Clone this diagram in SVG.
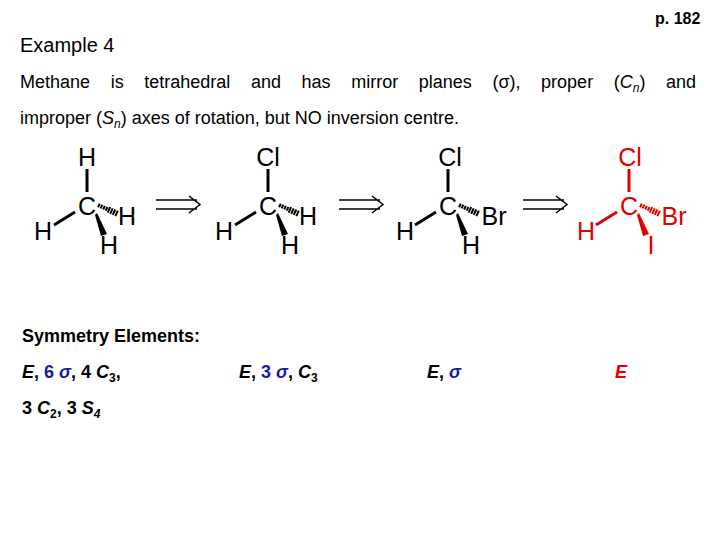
<svg xmlns="http://www.w3.org/2000/svg" width="720" height="540" viewBox="0 0 720 540">
<style>
text{font-family:"Liberation Sans",Arial,sans-serif}
.at{font-size:25px;text-anchor:middle}
.b{stroke-width:3;stroke-linecap:butt;fill:none}
.sym{font-size:18px;font-weight:bold}
.ar{stroke:#000;stroke-width:1.5;fill:none}
</style>
<defs>
<g id="mol">
<line class="b" x1="0" y1="-37" x2="0" y2="-14"/>
<line class="b" x1="-12" y1="6" x2="-33" y2="19"/>
<line x1="11" y1="-1" x2="21" y2="3.5" stroke-width="4" stroke-dasharray="2 0.8"/>
<line x1="21" y1="3.5" x2="31" y2="8" stroke-width="6" stroke-dasharray="2 0.8"/>
<polygon points="10,7 20,28 14,30 8,9" stroke="none"/>
</g>
</defs>
<rect width="720" height="540" fill="#fff"/>
<text x="655" y="24" font-size="16" font-weight="bold">p. 182</text>
<text x="20" y="52" font-size="20">Example 4</text>
<text x="20" y="88" font-size="18" word-spacing="15.6">Methane is tetrahedral and has mirror planes (σ), proper (<tspan font-style="italic">C</tspan><tspan font-style="italic" font-size="12" dy="4">n</tspan><tspan dy="-4">) and</tspan></text>
<text x="20" y="124" font-size="18">improper (<tspan font-style="italic">S</tspan><tspan font-style="italic" font-size="12" dy="4">n</tspan><tspan dy="-4">) axes of rotation, but NO inversion centre.</tspan></text>

<g id="m1">
<use href="#mol" x="87" y="206" fill="#000" stroke="#000"/>
<text class="at" x="87" y="166">H</text><text class="at" x="87" y="215">C</text>
<text class="at" x="43" y="240">H</text><text class="at" x="127" y="225">H</text><text class="at" x="109" y="254">H</text>
</g>
<g id="m2">
<use href="#mol" x="268" y="206" fill="#000" stroke="#000"/>
<text class="at" x="268" y="166">Cl</text><text class="at" x="268" y="215">C</text>
<text class="at" x="224" y="240">H</text><text class="at" x="308" y="225">H</text><text class="at" x="290" y="254">H</text>
</g>
<g id="m3">
<use href="#mol" x="448" y="206" fill="#000" stroke="#000"/>
<text class="at" x="450" y="166">Cl</text><text class="at" x="448" y="215">C</text>
<text class="at" x="405" y="240">H</text><text class="at" x="494" y="225">Br</text><text class="at" x="471" y="254">H</text>
</g>
<g id="m4">
<use href="#mol" x="629" y="206" fill="#e00000" stroke="#e00000"/>
<text class="at" x="630" y="166" fill="#e00000">Cl</text><text class="at" x="629" y="215" fill="#e00000">C</text>
<text class="at" x="586" y="240" fill="#e00000">H</text><text class="at" x="674" y="225" fill="#e00000">Br</text><text class="at" x="651" y="254" fill="#e00000">I</text>
</g>
<g id="connectors">
<g class="ar"><path d="M156,200H197M156,209H197M189,196L200,204.5L189,213"/></g>
<g class="ar"><path d="M339,200H380M339,209H380M372,196L383,204.5L372,213"/></g>
<g class="ar"><path d="M523,200H564M523,209H564M556,196L567,204.5L556,213"/></g>
</g>

<text class="sym" x="22" y="342">Symmetry Elements:</text>
<text class="sym" x="22" y="378"><tspan font-style="italic">E</tspan>, <tspan fill="#1a1aa0">6 <tspan font-style="italic">σ</tspan></tspan>, 4 <tspan font-style="italic">C</tspan><tspan font-size="12" dy="4">3</tspan><tspan dy="-4">,</tspan></text>
<text class="sym" x="239" y="378"><tspan font-style="italic">E</tspan>, <tspan fill="#1a1aa0">3 <tspan font-style="italic">σ</tspan></tspan>, <tspan font-style="italic">C</tspan><tspan font-size="12" dy="4">3</tspan></text>
<text class="sym" x="427" y="378"><tspan font-style="italic">E</tspan>, <tspan fill="#1a1aa0" font-style="italic">σ</tspan></text>
<text class="sym" x="615" y="378" fill="#e00000" font-style="italic">E</text>
<text class="sym" x="22" y="414">3 <tspan font-style="italic">C</tspan><tspan font-size="12" dy="4">2</tspan><tspan dy="-4">, 3 </tspan><tspan font-style="italic">S</tspan><tspan font-size="12" font-style="italic" dy="4">4</tspan></text>
</svg>
